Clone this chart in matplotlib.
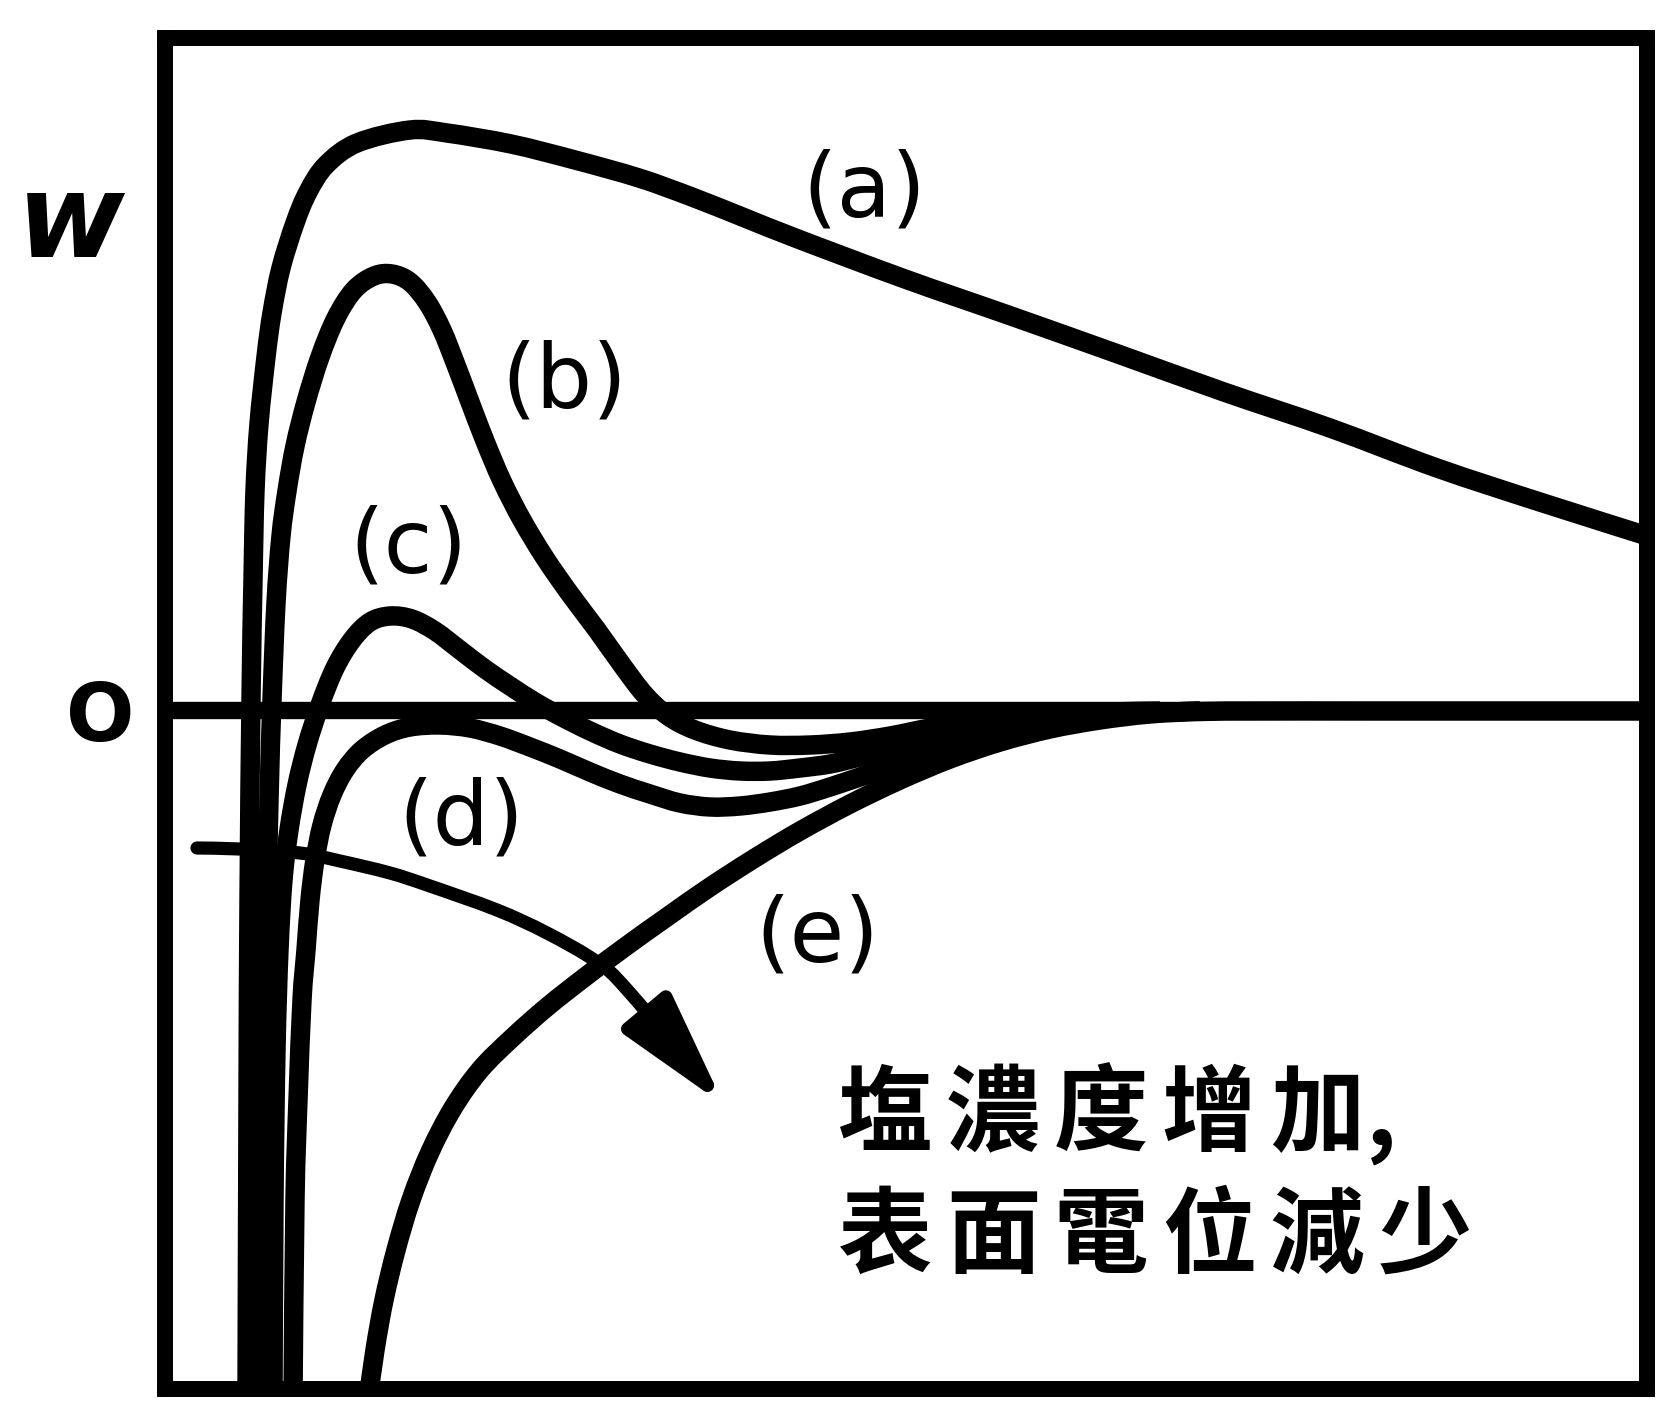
import numpy as np
import matplotlib
matplotlib.use("Agg")
import matplotlib.pyplot as plt
from matplotlib.path import Path
from matplotlib.patches import FancyArrowPatch, ArrowStyle, PathPatch

# Interaction energy W versus separation distance (arbitrary units)
# for increasing salt concentration (a) -> (e).
a_x = [82, 83, 84, 86, 88, 90, 94, 101, 107, 116, 130, 143, 161, 192, 245, 282,
       346, 410, 474, 527, 580, 633, 740, 846, 953, 1059, 1165, 1272, 1378, 1495]
a_w = [-690, -390, -190, 10, 130, 219, 286, 353, 397, 442, 487, 518, 545, 567,
       580, 577, 566, 550, 532, 513, 492, 471, 431, 394, 356, 318, 282, 242,
       207, 170]

b_x = [96, 98, 101, 104, 107, 111, 116, 122, 130, 141, 155, 171, 189, 209, 227,
       245, 262, 277, 291, 305, 320, 337, 357, 380, 405, 432, 457, 480, 503,
       530, 565, 605, 645, 685, 725, 765, 805, 845, 895, 945, 995]
b_w = [-690, -440, -240, -90, 10, 107, 174, 219, 264, 308, 353, 392, 420, 434,
       436, 428, 408, 380, 345, 308, 269, 229, 190, 152, 116, 80, 45, 15, -6,
       -20, -30, -35, -35, -32, -26, -18, -12, -8, -5, -2, -1]

c_x = [108, 109, 111, 114, 118, 124, 132, 142, 155, 170, 187, 205, 225, 247,
       270, 295, 320, 345, 370, 395, 425, 455, 485, 515, 545, 575, 605, 635,
       665, 695, 735, 785, 835, 885, 935, 985, 1035]
c_w = [-690, -490, -340, -240, -170, -120, -75, -35, 5, 42, 70, 88, 94, 91, 79,
       60, 41, 24, 8, -6, -21, -34, -44, -52, -58, -61, -61, -58, -54, -47,
       -38, -27, -18, -11, -6, -3, -1]

d_x = [128, 130, 133, 137, 141, 145, 150, 157, 167, 180, 197, 220, 245, 275,
       305, 335, 365, 395, 425, 455, 485, 515, 545, 575, 605, 635, 665, 695,
       735, 785, 835, 885, 935, 985, 1035]
d_w = [-690, -490, -390, -290, -240, -190, -150, -115, -85, -60, -40, -25, -17,
       -15, -18, -26, -37, -49, -62, -74, -84, -93, -97, -96, -92, -86, -77,
       -67, -54, -38, -24, -14, -7, -3, -1]

e_x = [203, 210, 219, 231, 246, 265, 288, 315, 347, 382, 420, 460, 502, 545,
       590, 635, 685, 735, 785, 835, 885, 935, 985, 1035, 1095, 1200, 1350, 1495]
e_w = [-690, -640, -590, -540, -490, -442, -398, -360, -328, -297, -267, -237,
       -207, -177, -148, -121, -94, -70, -49, -32, -19, -10, -4, -1.5, -1, -1,
       -1, -1]

curves = [(a_x, a_w), (b_x, b_w), (c_x, c_w), (d_x, d_w), (e_x, e_w)]

curve_labels = ["(a)", "(b)", "(c)", "(d)", "(e)"]
label_x = [699, 399, 243, 296, 652]
label_w = [518, 327, 162, -110, -227]

# Trend arrow: increasing salt concentration / decreasing surface potential
arrow_x = [32, 75, 135, 175, 225, 265, 332, 382, 432, 465, 559]
arrow_w = [-138, -139, -143, -151, -163, -176, -200, -223, -252, -283, -395]

note_line1 = ["塩", "濃", "度", "增", "加"]
note_line2 = ["表", "面", "電", "位", "減", "少"]

cjk = ["Noto Sans CJK TC", "DejaVu Sans"]


def smooth_path(xs, ys):
    """Smooth curve through the given points (Catmull-Rom as cubic Beziers)."""
    p = np.column_stack([xs, ys]).astype(float)
    n = len(p)
    verts = [p[0]]
    codes = [Path.MOVETO]
    for i in range(n - 1):
        p0 = p[i - 1] if i > 0 else p[i]
        p1 = p[i]
        p2 = p[i + 1]
        p3 = p[i + 2] if i + 2 < n else p[i + 1]
        verts += [p1 + (p2 - p0) / 6.0, p2 - (p3 - p1) / 6.0, p2]
        codes += [Path.CURVE4] * 3
    return Path(np.array(verts), codes)


fig = plt.figure(figsize=(16.69, 14.06), dpi=100)
ax = fig.add_axes([0.09886, 0.01209, 0.88796, 0.96088])
ax.set_xlim(0, 1482)
ax.set_ylim(-679, 672)

for sp in ax.spines.values():
    sp.set_linewidth(11.5)
    sp.set_color("black")
    sp.set_zorder(5)

ax.set_xticks([])
ax.set_yticks([0])
ax.set_yticklabels(["O"], fontsize=58, fontweight="bold")
ax.tick_params(axis="y", length=0, pad=22)

ax.axhline(0, color="black", lw=12.5, zorder=2)

for xs, ws in curves:
    ax.add_patch(PathPatch(smooth_path(xs, ws), facecolor="none",
                           edgecolor="black", lw=14, joinstyle="round",
                           capstyle="butt", zorder=3))

for t, x, y in zip(curve_labels, label_x, label_w):
    ax.text(x, y, t, fontsize=64, ha="center", va="center",
            family="DejaVu Sans")

arrow = FancyArrowPatch(path=smooth_path(arrow_x, arrow_w),
                        arrowstyle=ArrowStyle("-|>", head_length=68, head_width=18),
                        color="black", lw=9.5, capstyle="round",
                        joinstyle="round", zorder=4)
ax.add_patch(arrow)

ax.text(-94, 486, "w", fontsize=84, fontweight="bold", style="italic",
        ha="center", va="center", clip_on=False)

# Note text, one character per cell
pitch = 108
x0 = 720
for i, ch in enumerate(note_line1):
    ax.text(x0 + i * pitch, -434, ch, fontsize=68, fontweight="bold",
            family=cjk, ha="center", va="baseline")
ax.text(1216, -434, ",", fontsize=68, fontweight="bold",
        family=cjk, ha="center", va="baseline")
for i, ch in enumerate(note_line2):
    ax.text(x0 + i * pitch, -556, ch, fontsize=68, fontweight="bold",
            family=cjk, ha="center", va="baseline")

fig.savefig("out.png", dpi=100)
